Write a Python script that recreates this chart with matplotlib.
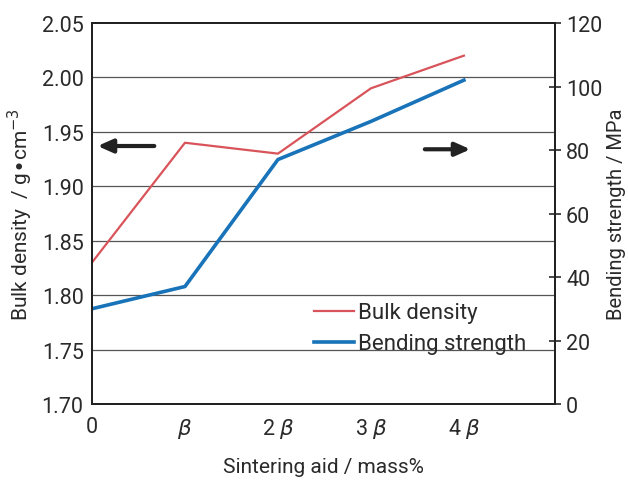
import numpy as np
import matplotlib
matplotlib.use('Agg')
import matplotlib.pyplot as plt

plt.rcParams['font.family'] = ['Roboto', 'DejaVu Sans']
plt.rcParams['mathtext.fontset'] = 'dejavusans'

x = [0, 1, 2, 3, 4]
xlabels = ['0', r'$\beta$', r'2 $\beta$', r'3 $\beta$', r'4 $\beta$']
bulk_density = [1.83, 1.94, 1.93, 1.99, 2.02]
bending_strength = [30, 37, 77, 89, 102]

fig = plt.figure(figsize=(6.28, 4.81), dpi=100)
ax = fig.add_axes([92/628, 1-405/481, 463/628, 381/481])
ax2 = ax.twinx()

ax.set_xlim(0, 4.98)
ax.set_ylim(1.70, 2.05)
ax2.set_ylim(0, 120)

ax.set_yticks(np.arange(1.70, 2.051, 0.05))
ax.set_yticklabels(['%.2f' % v for v in np.arange(1.70, 2.051, 0.05)])
ax2.set_yticks(np.arange(0, 121, 20))
ax.set_xticks(x)
ax.set_xticklabels(xlabels)

for v in np.arange(1.75, 2.01, 0.05):
    ax.axhline(v, color='#555555', lw=0.9, zorder=0)

l1, = ax.plot(x, bulk_density, color='#d9545a', lw=1.6, label='Bulk density')
l2, = ax2.plot(x, bending_strength, color='#1873b9', lw=2.6, label='Bending strength')

for a in (ax, ax2):
    for s in a.spines.values():
        s.set_color('#222222')
        s.set_linewidth(1.4)
    a.tick_params(labelsize=15.5, colors='#2a2a2a')

ax.tick_params(axis='y', length=0, pad=6)
ax.tick_params(axis='x', length=0, pad=9)
ax2.tick_params(axis='y', direction='inout', length=8, width=1.2, pad=4)

ax.set_ylabel(r'Bulk density  / g$\bullet$cm$^{-3}$', fontsize=15, color='#2a2a2a', labelpad=5)
ax2.set_ylabel('Bending strength / MPa', fontsize=14.5, color='#2a2a2a', labelpad=3)
ax.set_xlabel('Sintering aid / mass%', fontsize=15, color='#2a2a2a', labelpad=12)

# direction arrows
ax.annotate('', xy=(0.03, 1.937), xytext=(0.7, 1.937),
            arrowprops=dict(arrowstyle='-|>,head_length=0.9,head_width=0.4', color='#222222', lw=3))
ax.annotate('', xy=(4.1, 1.934), xytext=(3.55, 1.934),
            arrowprops=dict(arrowstyle='-|>,head_length=0.9,head_width=0.4', color='#222222', lw=3))

ax.legend(handles=[l1, l2], loc='upper left', bbox_to_anchor=(0.46, 0.29),
          frameon=False, fontsize=16, handlelength=1.8, handletextpad=0.2,
          labelspacing=0.45, borderaxespad=0, labelcolor='#2a2a2a')

fig.savefig('out.png', dpi=100)
